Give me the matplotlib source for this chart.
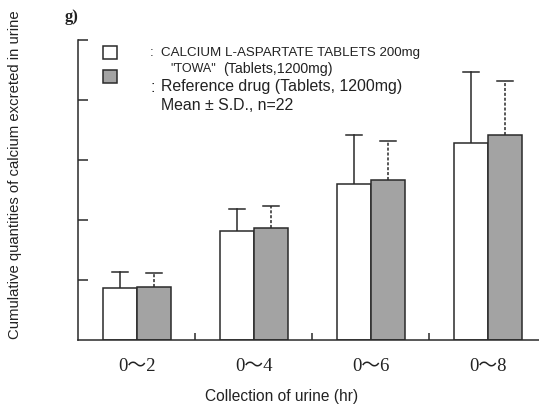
import matplotlib
matplotlib.use("Agg")
import matplotlib.pyplot as plt
import numpy as np

categories = ["0～2", "0～4", "0～6", "0～8"]
test_mean = [0.86, 1.81, 2.60, 3.29]
test_sd = [0.27, 0.38, 0.82, 1.17]
ref_mean = [0.88, 1.86, 2.67, 3.42]
ref_sd = [0.23, 0.37, 0.65, 0.90]

W, H = 539, 406
fig = plt.figure(figsize=(W / 100, H / 100), dpi=100)
ax = fig.add_axes([78 / W, 1 - 341 / H, 1 - 78 / W, 300 / H])

x = np.arange(len(categories))
bw = 0.29
edge = "#2a2a2a"
gray = "#a3a3a3"

ax.bar(x - bw / 2, test_mean, bw, color="white", edgecolor=edge, linewidth=1.1, zorder=2)
ax.bar(x + bw / 2, ref_mean, bw, color=gray, edgecolor=edge, linewidth=1.1, zorder=2)

for xi, m, s in zip(x - bw / 2, test_mean, test_sd):
    ax.plot([xi, xi], [m, m + s], color=edge, lw=1.1, zorder=1)
    ax.plot([xi - 0.07, xi + 0.07], [m + s, m + s], color=edge, lw=1.1)
for xi, m, s in zip(x + bw / 2, ref_mean, ref_sd):
    ax.plot([xi, xi], [m, m + s], color=edge, lw=1.1, ls=(0, (2, 1.2)), zorder=1)
    ax.plot([xi - 0.07, xi + 0.07], [m + s, m + s], color=edge, lw=1.1)

ax.set_xlim(-0.504, 3.436)
ax.set_ylim(0, 5)
ax.set_yticks([1, 2, 3, 4, 5])
ax.set_yticklabels([])
ax.tick_params(axis="y", direction="in", length=7, width=1.1, color=edge)
ax.set_xticks(x)
ax.set_xticklabels(categories, family=["Liberation Serif", "Noto Sans CJK JP"], fontsize=13.5,
                   color="#222")
ax.tick_params(axis="x", which="major", length=0, pad=12)
ax.set_xticks([0.5, 1.5, 2.5], minor=True)
ax.tick_params(axis="x", which="minor", direction="in", length=5, width=1.1, color=edge)

for side in ["top", "right"]:
    ax.spines[side].set_visible(False)
for side in ["left", "bottom"]:
    ax.spines[side].set_linewidth(1.1)
    ax.spines[side].set_color(edge)

sans = "Liberation Sans"
fig.text(15 / W, 1 - 175 / H, "Cumulative quantities of calcium excreted in urine",
         rotation=90, ha="center", va="center", family=sans, fontsize=10.7, color="#222")
fig.text(282 / W, 1 - 397 / H, "Collection of urine (hr)", ha="center", va="center",
         family=sans, fontsize=11.2, color="#222")
fig.text(65 / W, 1 - 17 / H, "g)", ha="left", va="center", family="Liberation Serif",
         fontsize=12, fontweight="bold", color="#222")

# legend patches (in figure pixels)
for y0, fc in [(47, "white"), (71, gray)]:
    fig.patches.append(plt.Rectangle((103 / W, 1 - (y0 + 13) / H), 14 / W, 13 / H,
                                     transform=fig.transFigure, facecolor=fc,
                                     edgecolor=edge, linewidth=1.1))
fig.text(150 / W, 1 - 53 / H, ":", ha="left", va="center", family=sans, fontsize=9.6, color="#222")
fig.text(161 / W, 1 - 53 / H, "CALCIUM L-ASPARTATE TABLETS 200mg", ha="left", va="center",
         family=sans, fontsize=9.6, color="#222")
fig.text(170 / W, 1 - 69 / H, "\"TOWA\"", ha="left", va="center",
         family=sans, fontsize=9.0, color="#222")
fig.text(223 / W, 1 - 69 / H, "(Tablets,1200mg)", ha="left", va="center",
         family=sans, fontsize=10.2, color="#222")
fig.text(150 / W, 1 - 87 / H, ":", ha="left", va="center", family=sans, fontsize=11.4, color="#222")
fig.text(161 / W, 1 - 87 / H, "Reference drug (Tablets, 1200mg)", ha="left", va="center",
         family=sans, fontsize=11.4, color="#222")
fig.text(161 / W, 1 - 106 / H, "Mean ± S.D., n=22", ha="left", va="center",
         family=sans, fontsize=11.4, color="#222")

fig.savefig("out.png", dpi=100)
